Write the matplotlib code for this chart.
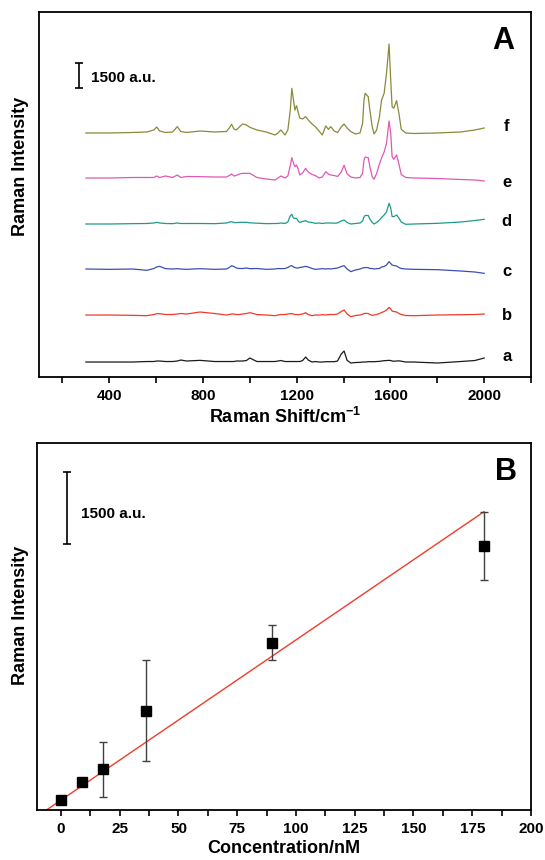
import numpy as np
import matplotlib
matplotlib.use('Agg')
import matplotlib.pyplot as plt
from matplotlib.ticker import MultipleLocator, NullLocator

plt.rcParams['font.family'] = ['Liberation Sans', 'DejaVu Sans']
plt.rcParams['font.weight'] = 'bold'
plt.rcParams['mathtext.fontset'] = 'custom'
plt.rcParams['mathtext.rm'] = 'Liberation Sans:bold'
plt.rcParams['mathtext.default'] = 'rm'

# ---- Panel A: SERS spectra (intensity above each trace's own baseline, a.u.) ----
shift = [300, 400, 500, 560, 590, 602, 615, 640, 670, 690,
         705, 730, 787, 850, 900, 912, 922, 932, 942, 955,
         969, 985, 1000, 1030, 1070, 1107, 1120, 1132, 1150, 1162,
         1172, 1179, 1186, 1192, 1199, 1206, 1213, 1225, 1238, 1249,
         1265, 1279, 1295, 1309, 1324, 1335, 1345, 1360, 1374, 1390,
         1402, 1415, 1431, 1450, 1470, 1481, 1487, 1492, 1505, 1512,
         1522, 1530, 1541, 1553, 1562, 1573, 1583, 1594, 1601, 1607,
         1614, 1626, 1636, 1646, 1665, 1700, 1800, 1900, 1960, 2000]

spec_a = [0, 0, 0, 30, 30, 60, 60, 30, 30, 60, 120, 60, 100, 30, 30, 30, 30, 30, 60, 60,
          60, 90, 240, 30, 30, 30, 60, 90, 30, 30, 30, 30, 30, 30, 30, 30, 30, 90, 300, 120,
          0, 30, 0, 0, 20, 20, 20, 20, 60, 480, 660, 100, -60, -30, -20, 0, 0, 0, 20, 20,
          20, 20, 30, 40, 60, 80, 90, 100, 90, 60, 50, 60, 70, 50, 0, 0, -60, 30, 90, 240]
spec_b = [0, 0, -20, -40, 30, 80, 80, 30, 30, 60, 90, 60, 180, 90, 0, 30, 60, 60, 30, 30,
          60, 90, 140, 30, 0, -40, 0, 30, 30, 60, 80, 80, 60, 30, 30, 20, 30, 60, 140, 30,
          -40, 0, 0, 20, 0, 20, 30, 30, 60, 210, 300, 60, -100, -30, 0, 50, 90, 100, 90, 30,
          -20, 0, 30, 90, 150, 210, 300, 460, 360, 240, 210, 180, 90, 30, -30, -40, 0, 20, 30, 60]
spec_c = [0, -20, 0, -80, 30, 120, 160, 20, 0, 20, 0, -20, 20, -20, 0, 90, 200, 150, 60, 30,
          30, 60, 20, 30, -20, 0, 30, 20, 30, 90, 180, 200, 120, 90, 60, 60, 90, 120, 160, 120,
          30, -20, 0, 20, 0, 20, 0, 30, 60, 150, 200, 0, -160, -60, 0, 60, 80, 90, 80, 30,
          30, 0, 20, 30, 120, 150, 240, 440, 330, 240, 210, 180, 90, 30, 0, -20, -40, -120, -180, -260]
spec_d = [0, 0, 20, 30, 60, 100, 60, 30, 20, 60, 30, 30, 30, 20, 60, 110, 140, 90, 80, 100,
          100, 100, 70, 50, 20, 30, 30, 60, 30, 120, 480, 580, 360, 340, 340, 180, 90, 150, 200, 120,
          90, 40, 60, 30, 60, 60, 60, 50, 60, 180, 240, 90, 0, 30, 60, 180, 420, 510, 510, 300,
          90, 0, 90, 240, 390, 540, 720, 1240, 960, 450, 440, 540, 360, 120, -20, 0, 40, 120, 210, 280]
spec_e = [0, 0, 30, 30, 30, 120, 30, 120, 30, 180, 30, 90, 80, 60, 60, 150, 240, 120, 150, 240,
          280, 280, 280, 30, -60, -120, 0, 120, 0, 120, 720, 1220, 900, 680, 780, 540, 180, 300, 580, 360,
          210, 150, 0, 60, 380, 240, 180, 150, 90, 360, 760, 240, 60, 0, 30, 280, 1080, 1260, 1220, 680,
          80, -80, 280, 840, 1200, 1560, 2080, 3420, 2700, 1280, 1120, 1380, 840, 210, 30, 0, -30, -90, -120, -180]
spec_f = [0, 0, 30, 60, 180, 360, 120, 30, 60, 380, 90, 30, 120, 60, 90, 300, 520, 240, 180, 360,
          540, 480, 340, 180, 60, -120, 0, 180, -120, 180, 1320, 2680, 1980, 1380, 1640, 1260, 900, 840, 980, 780,
          540, 380, 120, -120, 420, 220, 380, 120, 20, 360, 540, 300, 80, -60, 0, 580, 1980, 2380, 2180, 1380,
          380, -60, 180, 980, 1980, 2380, 3580, 5340, 3180, 1580, 1480, 1940, 1180, 220, 0, -30, 0, 60, 180, 300]

spec_labels = ['a', 'b', 'c', 'd', 'e', 'f']
spec_offsets = [900, 3720, 6480, 9180, 11940, 14640]
spec_label_y = [1220, 3720, 6320, 9320, 11640, 15000]
spec_colors = ['#1a1a1a', '#f03a2a', '#3b4fb2', '#1e9a8c', '#e058b4', '#8a8a3a']

# ---- Panel B: calibration ----
conc = [0, 9, 18, 36, 90, 180]
intensity = [207, 572, 841, 2052, 3456, 5454]
intensity_err = [30, 80, 564, 1043, 366, 702]
fit_slope = 33.1
fit_intercept = 205

fig = plt.figure(figsize=(5.45, 8.6), dpi=100)
axA = fig.add_axes([0.0716, 0.5616, 0.9028, 0.4241])
axB = fig.add_axes([0.0688, 0.0581, 0.9055, 0.4271])

spectra = [spec_a, spec_b, spec_c, spec_d, spec_e, spec_f]
for vals, off, col in zip(spectra, spec_offsets, spec_colors):
    axA.plot(shift, np.array(vals) + off, color=col, lw=0.9)
for lab, ly in zip(spec_labels, spec_label_y):
    axA.text(2096, ly, lab, fontsize=12, fontweight='bold', ha='center', va='center')

# scale bar
axA.errorbar([271], [18060], yerr=[750], fmt='none', ecolor='black',
             elinewidth=1.2, capsize=3, capthick=1.2)
axA.text(322, 17940, '1500 a.u.', fontsize=11, fontweight='bold', va='center', ha='left')
axA.text(0.943, 0.921, 'A', transform=axA.transAxes, fontsize=22, fontweight='bold',
         ha='center', va='center')

axA.set_xlim(100, 2200)
axA.set_ylim(0, 21880)
axA.xaxis.set_major_locator(MultipleLocator(400))
axA.xaxis.set_minor_locator(MultipleLocator(200))
axA.set_xlabel('Raman Shift/cm$^{-1}$', fontsize=13, fontweight='bold', labelpad=3)

# Panel B
fit_x = np.array([-10, 180])
axB.plot(fit_x, fit_intercept + fit_slope * fit_x, color='#f03c2c', lw=1.0, zorder=1)
axB.errorbar(conc, intensity, yerr=intensity_err, fmt='s', color='black', ms=6.5,
             ecolor='#404040', elinewidth=1.0, capsize=3, capthick=1.0, zorder=2)
axB.errorbar([2.7], [6240], yerr=[750], fmt='none', ecolor='black',
             elinewidth=1.2, capsize=3, capthick=1.2)
axB.text(8.6, 6110, '1500 a.u.', fontsize=11, fontweight='bold', va='center', ha='left')
axB.text(0.949, 0.921, 'B', transform=axB.transAxes, fontsize=22, fontweight='bold',
         ha='center', va='center')

axB.set_xlim(-10, 200)
axB.set_ylim(0, 7588)
axB.xaxis.set_major_locator(MultipleLocator(25))
axB.xaxis.set_minor_locator(MultipleLocator(12.5))
axB.set_xlabel('Concentration/nM', fontsize=13, fontweight='bold', labelpad=3)

for ax in (axA, axB):
    ax.yaxis.set_major_locator(NullLocator())
    ax.yaxis.set_minor_locator(NullLocator())
    ax.tick_params(axis='x', which='both', direction='out', length=4.5, width=1.2,
                   top=False, labelsize=11, pad=4)
    for lbl in ax.get_xticklabels():
        lbl.set_fontweight('bold')
    for sp in ax.spines.values():
        sp.set_linewidth(1.3)

fig.text(0.0367, 0.806, 'Raman Intensity', rotation=90, ha='center', va='center',
         fontsize=13, fontweight='bold')
fig.text(0.0367, 0.284, 'Raman Intensity', rotation=90, ha='center', va='center',
         fontsize=13, fontweight='bold')

fig.savefig('out.png', dpi=100)
